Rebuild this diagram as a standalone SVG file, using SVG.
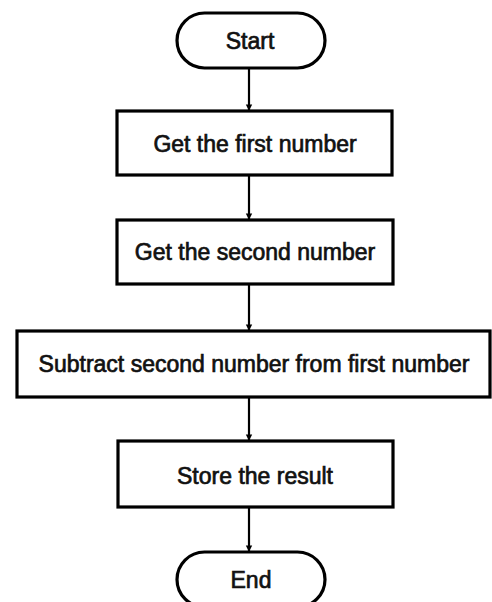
<svg xmlns="http://www.w3.org/2000/svg" width="492" height="602" viewBox="0 0 492 602">
<defs>
<style>
.box{fill:#fff;stroke:#000;stroke-width:3.2}
.t{font-family:"Liberation Sans",Arial,sans-serif;font-size:23px;fill:#111;stroke:#111;stroke-width:0.7;text-anchor:middle}
.c{stroke:#000;stroke-width:2.2;fill:none;marker-end:url(#ah)}
</style>
<marker id="ah" viewBox="0 0 8 10" refX="7" refY="5" markerWidth="8" markerHeight="8" markerUnits="userSpaceOnUse" orient="auto">
<path d="M0,1 L8,5 L0,9 z" fill="#000"/>
</marker>
</defs>
<rect width="492" height="602" fill="#fff"/>
<g id="connectors">
<line class="c" x1="249" y1="68" x2="249" y2="110"/>
<line class="c" x1="249" y1="175" x2="249" y2="219"/>
<line class="c" x1="249" y1="284" x2="249" y2="330"/>
<line class="c" x1="249" y1="397" x2="249" y2="440"/>
<line class="c" x1="249" y1="507" x2="249" y2="551"/>
</g>
<g id="start">
<rect class="box" x="177" y="13" width="148" height="55" rx="27.5"/>
<text class="t" x="250" y="49">Start</text>
</g>
<g id="get-first">
<rect class="box" x="117" y="111" width="275" height="64"/>
<text class="t" x="255" y="152">Get the first number</text>
</g>
<g id="get-second">
<rect class="box" x="117" y="220" width="276" height="64"/>
<text class="t" x="255" y="260">Get the second number</text>
</g>
<g id="subtract">
<rect class="box" x="17" y="331" width="473" height="66"/>
<text class="t" x="254" y="372">Subtract second number from first number</text>
</g>
<g id="store">
<rect class="box" x="118" y="441" width="275" height="66"/>
<text class="t" x="255" y="484">Store the result</text>
</g>
<g id="end">
<rect class="box" x="177" y="552" width="148" height="55" rx="27.5"/>
<text class="t" x="251" y="588">End</text>
</g>
</svg>
